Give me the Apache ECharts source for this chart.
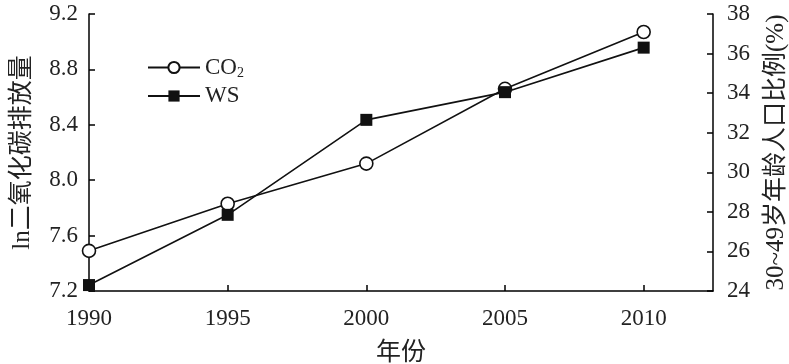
<!DOCTYPE html>
<html><head><meta charset="utf-8">
<script src="https://cdn.jsdelivr.net/npm/echarts@6/dist/echarts.min.js"></script>
<style>html,body{margin:0;padding:0;background:#fff}#c{width:789px;height:364px}</style>
</head><body><div id="c"></div>
<script>
const years = [1990, 1995, 2000, 2005, 2010];
const co2 = [7.49, 7.83, 8.12, 8.66, 9.07];
const ws = [24.3, 27.85, 32.65, 34.05, 36.3];
const seriesNames = ['CO2', 'WS'];
const xName = '年份';
const leftName = 'ln二氧化碳排放量';
const rightName = '30~49岁年龄人口比例(%)';

const serif = '"Liberation Serif", "Times New Roman", serif';
const cjk = '"Liberation Serif", "Noto Sans CJK SC", serif';
const fs = 23;
const axisCommon = {
  axisLine: {show: true, lineStyle: {color: '#000', width: 1.5}},
  axisTick: {show: true, inside: true, length: 6, lineStyle: {color: '#000', width: 1.5}},
  splitLine: {show: false},
  axisLabel: {color: '#222', fontFamily: serif, fontSize: fs},
  nameTextStyle: {color: '#222', fontFamily: cjk, fontSize: 25}
};
const chart = echarts.init(document.getElementById('c'), null, {renderer: 'canvas'});
chart.setOption({
  animation: false,
  backgroundColor: '#fff',
  grid: {left: 89, right: 76, top: 14, bottom: 73, containLabel: false, outerBoundsMode: 'none'},
  legend: {
    orient: 'vertical', left: 142, top: 51, itemWidth: 52, itemHeight: 14, itemGap: 4,
    data: seriesNames,
    formatter: n => n === 'CO2' ? '{a|CO}{b|2}' : '{a|' + n + '}',
    textStyle: {
      color: '#222', fontFamily: serif, fontSize: fs,
      rich: {
        a: {fontFamily: serif, fontSize: fs, color: '#222'},
        b: {fontFamily: serif, fontSize: 14, color: '#222', padding: [12, 0, 0, 0]}
      }
    }
  },
  xAxis: Object.assign({}, axisCommon, {
    type: 'value', min: 1990, max: 2012.5, interval: 5,
    name: xName, nameLocation: 'middle', nameGap: 50,
    axisLabel: Object.assign({}, axisCommon.axisLabel, {margin: 16,
      formatter: v => (v % 5 === 0 && v <= 2010) ? String(v) : ''}),
    axisTick: Object.assign({}, axisCommon.axisTick, {customValues: years})
  }),
  yAxis: [
    Object.assign({}, axisCommon, {
      type: 'value', min: 7.2, max: 9.2, interval: 0.4, position: 'left',
      name: leftName, nameLocation: 'middle', nameGap: 54, nameRotate: 90,
      axisLabel: Object.assign({}, axisCommon.axisLabel, {margin: 11, formatter: v => v.toFixed(1)})
    }),
    Object.assign({}, axisCommon, {
      type: 'value', min: 24, max: 38, interval: 2, position: 'right',
      name: rightName, nameLocation: 'middle', nameGap: 51, nameRotate: 90,
      axisLabel: Object.assign({}, axisCommon.axisLabel, {margin: 14})
    })
  ],
  series: [
    {
      name: seriesNames[0], type: 'line', yAxisIndex: 0,
      data: years.map((y, i) => [y, co2[i]]),
      symbol: 'circle', symbolSize: 13,
      lineStyle: {color: '#111', width: 1.6},
      itemStyle: {color: '#fff', borderColor: '#111', borderWidth: 1.6}
    },
    {
      name: seriesNames[1], type: 'line', yAxisIndex: 1,
      data: years.map((y, i) => [y, ws[i]]),
      symbol: 'rect', symbolSize: 12,
      lineStyle: {color: '#111', width: 1.6},
      itemStyle: {color: '#111'}
    }
  ]
});
</script></body></html>
